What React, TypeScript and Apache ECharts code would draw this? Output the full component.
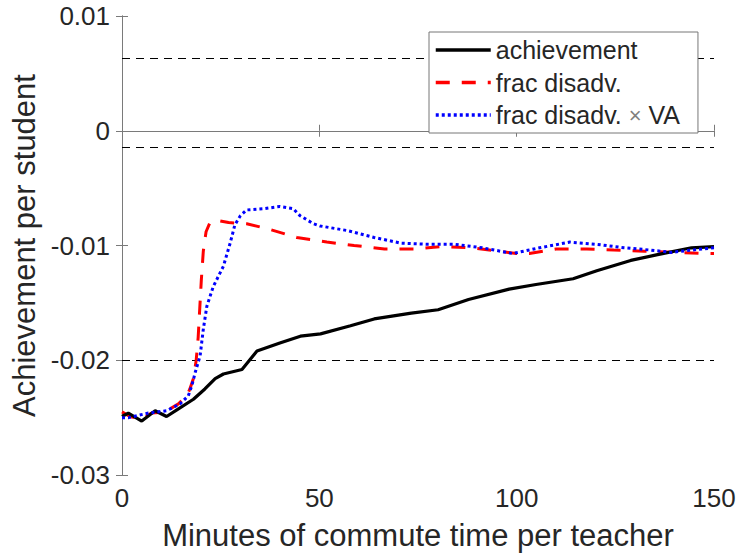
import React, { useEffect, useRef } from "react";
import * as echarts from "echarts";

const achX = [0, 1.6, 5, 8.4, 11.3, 14, 18.1, 21, 23.6, 25.7, 30.4, 34.2, 40, 45.2, 50.3, 57.9, 63.9, 73.3, 80.1, 87.8, 98.1, 104.9, 114.3, 120.3, 128.9, 135.7, 144.3, 150];
const achY = [-0.0249, -0.0246, -0.0253, -0.0244, -0.0249, -0.0243, -0.0234, -0.0225, -0.0216, -0.0212, -0.0208, -0.0192, -0.0185, -0.0179, -0.0177, -0.0170, -0.0164, -0.0159, -0.0156, -0.0147, -0.0138, -0.0134, -0.0129, -0.0122, -0.0113, -0.0108, -0.0102, -0.0101];

const fracX = [0, 2, 5, 7.5, 10.9, 14.3, 16.4, 17.2, 18.1, 18.8, 19.3, 19.7, 20.1, 20.6, 21.3, 22.3, 24, 27, 31.6, 37.5, 44.3, 51.9, 58.8, 66.5, 74.2, 81, 88.7, 95.5, 100, 103.2, 110, 117.8, 124.6, 132.3, 140, 147.7, 150];
const fracY = [-0.0245, -0.0249, -0.0251, -0.0246, -0.0245, -0.0238, -0.0231, -0.0225, -0.0216, -0.0200, -0.0180, -0.0155, -0.0130, -0.0105, -0.0088, -0.0080, -0.0078, -0.0080, -0.0081, -0.0086, -0.0093, -0.0097, -0.0100, -0.0103, -0.0103, -0.0101, -0.0102, -0.0105, -0.0107, -0.0107, -0.0103, -0.0103, -0.0104, -0.0105, -0.0106, -0.0107, -0.0107];

const vaX = [0, 1.7, 6.7, 11.3, 14.7, 16.8, 17.7, 18.6, 19.8, 20.6, 21.5, 23.1, 25.7, 27.4, 28.6, 30, 31.6, 35.8, 40, 43.4, 45.1, 48.5, 50.2, 57.1, 63.9, 70.7, 77.6, 84.4, 91.3, 99, 105.8, 113.5, 120.3, 127.2, 134, 139.1, 144.3, 150];
const vaY = [-0.0250, -0.0250, -0.0246, -0.0244, -0.0238, -0.0231, -0.0222, -0.0210, -0.0196, -0.0173, -0.0153, -0.0136, -0.0118, -0.0098, -0.0082, -0.0074, -0.0069, -0.0068, -0.0066, -0.0068, -0.0074, -0.0081, -0.0083, -0.0087, -0.0093, -0.0098, -0.0099, -0.0099, -0.0102, -0.0107, -0.0102, -0.0097, -0.0099, -0.0102, -0.0104, -0.0106, -0.0104, -0.0102];

const refLines = [0.00634, -0.00142, -0.02];
const seriesNames = ["achievement", "frac disadv.", "frac disadv. × VA"];
const xTicks = [0, 50, 100, 150];
const yTicks = [-0.03, -0.02, -0.01, 0, 0.01];

const pairs = (xs: number[], ys: number[]) => xs.map((x, i) => [x, ys[i]]);

const FONT = "'Liberation Sans', Arial, Helvetica, sans-serif";
const AXC = "#7a7a7a";

export default function App() {
  const ref = useRef<HTMLDivElement>(null);
  useEffect(() => {
    if (!ref.current) return;
    const chart = echarts.init(ref.current, undefined, { renderer: "svg" });
    const baseX = {
      type: "value" as const,
      min: xTicks[0],
      max: xTicks[xTicks.length - 1],
      interval: 50,
      splitLine: { show: false },
      axisLine: { show: true, lineStyle: { color: AXC, width: 1 } },
      axisTick: { show: true, inside: true, length: 6, lineStyle: { color: AXC } },
    };
    const baseY = {
      type: "value" as const,
      min: yTicks[0],
      max: yTicks[yTicks.length - 1],
      interval: 0.01,
      splitLine: { show: false },
      axisLine: { show: true, lineStyle: { color: AXC, width: 1 } },
      axisTick: { show: true, inside: true, length: 6, lineStyle: { color: AXC } },
    };
    chart.setOption({
      animation: false,
      backgroundColor: "#ffffff",
      grid: { left: 122, right: 25, top: 16, bottom: 85 },
      legend: {
        orient: "vertical",
        left: 429,
        top: 32,
        data: seriesNames,
        itemWidth: 55,
        itemHeight: 14,
        itemGap: 7.5,
        itemTextGap: 6,
        padding: [5.5, 18, 5.5, 5],
        backgroundColor: "#ffffff",
        borderColor: "#777777",
        borderWidth: 1,
        borderRadius: 0,
        selectedMode: false,
        itemStyle: { opacity: 0 },
        lineStyle: { width: 3.5 },
        formatter: (name: string) => name.replace("×", "{x|×}"),
        textStyle: {
          fontFamily: FONT,
          fontSize: 25,
          lineHeight: 25,
          color: "#262626",
          rich: {
            x: { fontFamily: FONT, fontSize: 22, color: "#808080", lineHeight: 25 },
          },
        },
      },
      xAxis: [
        {
          ...baseX,
          position: "bottom",
          name: "Minutes of commute time per teacher",
          nameLocation: "middle",
          nameGap: 45,
          nameTextStyle: { fontFamily: FONT, fontSize: 31, color: "#262626" },
          axisLabel: { fontFamily: FONT, fontSize: 26, color: "#262626", margin: 10 },
        },
        { ...baseX, position: "top", axisLabel: { show: false } },
      ],
      yAxis: [
        {
          ...baseY,
          position: "left",
          name: "Achievement per student",
          nameLocation: "middle",
          nameGap: 79,
          nameRotate: 90,
          nameTextStyle: { fontFamily: FONT, fontSize: 31, color: "#262626" },
          axisLabel: {
            fontFamily: FONT,
            fontSize: 26,
            color: "#262626",
            margin: 12,
            formatter: (v: number) => String(+v.toFixed(2)),
          },
        },
        { ...baseY, position: "right", axisLabel: { show: false } },
      ],
      series: [
        {
          name: seriesNames[0],
          type: "line",
          xAxisIndex: 0,
          yAxisIndex: 0,
          data: pairs(achX, achY),
          showSymbol: false,
          symbol: "none",
          z: 4,
          lineStyle: { color: "#000000", width: 3.2, type: "solid" },
          itemStyle: { color: "#000000" },
          markLine: {
            silent: true,
            precision: 6,
            symbol: ["none", "none"],
            label: { show: false },
            lineStyle: { color: "#000000", width: 1.2, type: [8, 6] },
            data: refLines.map((v) => ({ yAxis: v })),
            z: 1,
          },
        },
        {
          name: seriesNames[1],
          type: "line",
          xAxisIndex: 0,
          yAxisIndex: 0,
          data: pairs(fracX, fracY),
          showSymbol: false,
          symbol: "none",
          z: 3,
          lineStyle: { color: "#ff0000", width: 3, type: [14, 12] },
          itemStyle: { color: "#ff0000" },
        },
        {
          name: seriesNames[2],
          type: "line",
          xAxisIndex: 0,
          yAxisIndex: 0,
          data: pairs(vaX, vaY),
          showSymbol: false,
          symbol: "none",
          z: 5,
          lineStyle: { color: "#0000ff", width: 3, type: [3, 3] },
          itemStyle: { color: "#0000ff" },
        },
      ],
    });
    return () => chart.dispose();
  }, []);
  return (
    <div
      ref={ref}
      style={{ position: "fixed", left: 0, top: 0, width: 739, height: 560, background: "#fff" }}
    />
  );
}
